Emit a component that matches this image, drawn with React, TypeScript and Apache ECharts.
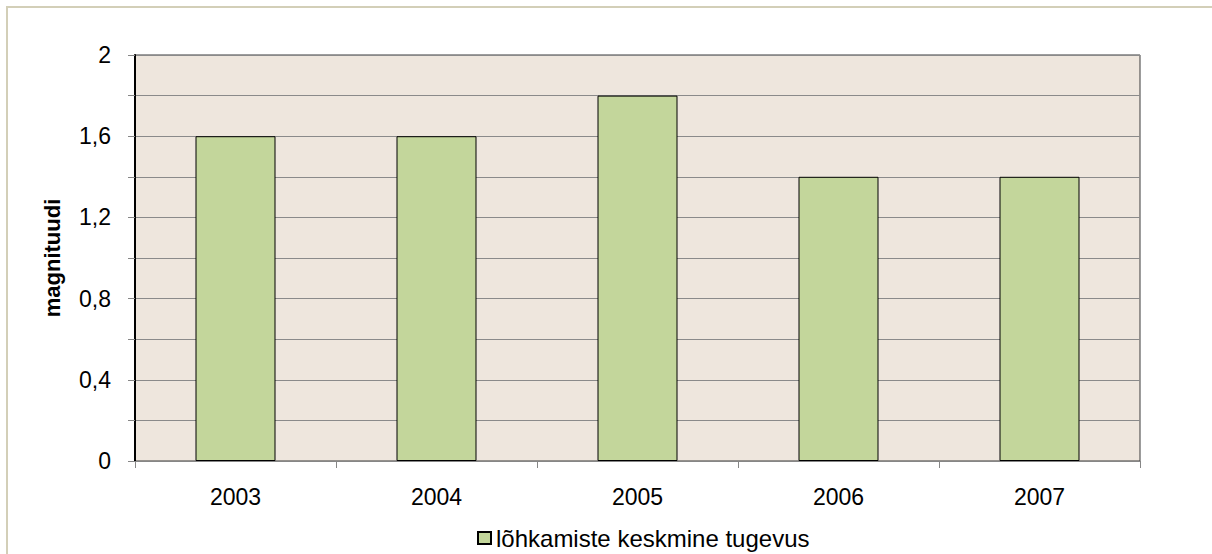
import React, { useEffect, useRef } from "react";
import * as echarts from "echarts";

const categories = ["2003", "2004", "2005", "2006", "2007"];
const values = [1.6, 1.6, 1.8, 1.4, 1.4];
const seriesName = "lõhkamiste keskmine tugevus";
const yAxisName = "magnituudi";
const yLabeledTicks = [0, 0.4, 0.8, 1.2, 1.6, 2];

export default function App() {
  const ref = useRef<HTMLDivElement>(null);
  useEffect(() => {
    if (!ref.current) return;
    const chart = echarts.init(ref.current, undefined, { renderer: "svg" });
    const font = "'Liberation Sans', Arial, sans-serif";
    chart.setOption({
      animation: false,
      textStyle: { fontFamily: font },
      grid: {
        left: 127,
        top: 47,
        width: 1005,
        height: 406,
        show: true,
        backgroundColor: "#EEE6DD",
        borderColor: "#3a3a3a",
        borderWidth: 1,
      },
      legend: {
        left: 464,
        top: 513,
        itemWidth: 13,
        itemHeight: 12,
        itemGap: 10,
        icon: "rect",
        textStyle: { fontSize: 24, color: "#000", fontFamily: font, lineHeight: 24 },
        data: [seriesName],
      },
      xAxis: {
        type: "category",
        data: categories,
        boundaryGap: true,
        axisLine: { lineStyle: { color: "#868686", width: 1 } },
        axisTick: { show: true, alignWithLabel: false, length: 7, lineStyle: { color: "#868686" } },
        axisLabel: { fontSize: 23, color: "#000", margin: 24, fontFamily: font },
        splitLine: { show: false },
      },
      yAxis: {
        type: "value",
        min: 0,
        max: 2,
        interval: 0.2,
        name: yAxisName,
        nameLocation: "middle",
        nameGap: 72,
        nameTextStyle: { fontSize: 22, fontWeight: "bold", color: "#000", fontFamily: font },
        axisLine: { show: true, lineStyle: { color: "#000", width: 2 } },
        axisTick: { show: true, length: 7, lineStyle: { color: "#868686" } },
        axisLabel: {
          fontSize: 23,
          color: "#000",
          margin: 24,
          fontFamily: font,
          formatter: (v: number) => {
            const hit = yLabeledTicks.find((t) => Math.abs(t - v) < 1e-6);
            return hit === undefined ? "" : String(hit).replace(".", ",");
          },
        },
        splitLine: { show: true, lineStyle: { color: "#8a8a8a", width: 1 } },
      },
      series: [
        {
          name: seriesName,
          type: "bar",
          data: values,
          barWidth: 80,
          itemStyle: { color: "#C3D69B", borderColor: "#000", borderWidth: 1 },
        },
      ],
    });
    return () => chart.dispose();
  }, []);
  return (
    <div
      style={{
        position: "absolute",
        left: 6,
        top: 6,
        width: 1206,
        height: 548,
        borderTop: "2px solid #D3CFB8",
        borderLeft: "2px solid #D3CFB8",
        boxSizing: "border-box",
      }}
    >
      <div ref={ref} style={{ width: 1204, height: 546 }} />
    </div>
  );
}
